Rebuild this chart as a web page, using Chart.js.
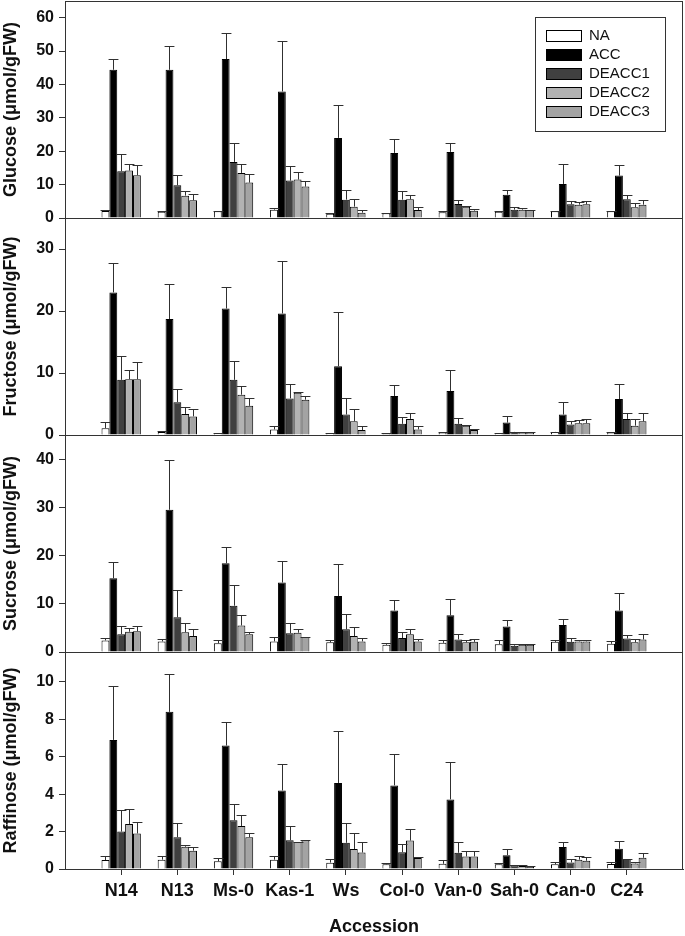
<!DOCTYPE html>
<html>
<head>
<meta charset="utf-8">
<script src="https://cdn.jsdelivr.net/npm/chart.js@4.4.1/dist/chart.umd.min.js"></script>
<style>
  html, body { margin: 0; padding: 0; background: #fff; }
  #wrap { position: relative; width: 685px; height: 936px; overflow: hidden; background: #fff; }
  #wrap canvas { position: absolute; left: 0; }
</style>
</head>
<body>
<div id="wrap">
  <canvas id="cGlc"></canvas>
  <canvas id="cFru"></canvas>
  <canvas id="cSuc"></canvas>
  <canvas id="cRaf"></canvas>
</div>
<script>
// --- data ---
const accessions = ['N14', 'N13', 'Ms-0', 'Kas-1', 'Ws', 'Col-0', 'Van-0', 'Sah-0', 'Can-0', 'C24'];
const treatments = ['NA', 'ACC', 'DEACC1', 'DEACC2', 'DEACC3'];

// Glucose (means, then upper error = SD)
const glcNA     = [2.1, 1.9, 2.0, 2.5, 1.3, 1.4, 1.7, 1.9, 2.0, 2.0];
const glcACC    = [44.4, 44.4, 47.6, 37.9, 24.0, 19.5, 19.8, 7.0, 10.2, 12.7];
const glcDEACC1 = [14.0, 9.8, 16.8, 11.2, 5.5, 5.5, 4.2, 2.5, 4.1, 5.6];
const glcDEACC2 = [14.2, 6.7, 13.5, 11.5, 3.4, 5.6, 3.4, 2.5, 4.0, 3.2];
const glcDEACC3 = [12.8, 5.3, 10.6, 9.4, 1.6, 2.4, 2.2, 2.4, 4.1, 4.0];
const glcNAsd     = [0.2, 0.2, 0.2, 0.6, 0.2, 0.2, 0.3, 0.2, 0.2, 0.2];
const glcACCsd    = [3.2, 7.0, 7.8, 15.0, 9.7, 4.3, 2.7, 1.4, 6.1, 3.1];
const glcDEACC1sd = [5.3, 3.0, 5.7, 4.5, 2.8, 2.6, 1.1, 0.9, 1.0, 1.4];
const glcDEACC2sd = [2.1, 1.5, 2.6, 2.2, 2.4, 1.4, 0.2, 0.6, 0.7, 1.3];
const glcDEACC3sd = [3.0, 2.0, 2.7, 1.6, 0.9, 0.9, 0.4, 0.1, 0.9, 1.3];

// Fructose
const fruNA     = [1.1, 0.5, 0.3, 0.9, 0.3, 0.2, 0.4, 0.3, 0.5, 0.4];
const fruACC    = [23.0, 18.7, 20.4, 19.6, 11.1, 6.3, 7.1, 2.0, 3.3, 5.8];
const fruDEACC1 = [8.9, 5.3, 8.9, 5.9, 3.3, 1.8, 1.8, 0.5, 1.7, 2.6];
const fruDEACC2 = [9.0, 3.4, 6.5, 6.8, 2.2, 2.6, 1.5, 0.4, 1.9, 1.5];
const fruDEACC3 = [9.0, 3.0, 4.7, 5.7, 0.8, 0.9, 0.8, 0.4, 1.9, 2.2];
const fruNAsd     = [1.0, 0.1, 0.1, 0.5, 0.05, 0.05, 0.1, 0.05, 0.05, 0.05];
const fruACCsd    = [4.7, 5.6, 3.4, 8.4, 8.8, 1.7, 3.4, 1.0, 2.0, 2.4];
const fruDEACC1sd = [3.9, 2.2, 3.1, 2.3, 2.7, 1.1, 1.0, 0.05, 0.5, 1.0];
const fruDEACC2sd = [1.5, 1.1, 1.4, 0.2, 2.0, 1.0, 0.1, 0.05, 0.5, 1.1];
const fruDEACC3sd = [2.7, 1.2, 1.3, 0.6, 0.6, 0.6, 0.1, 0.05, 0.7, 1.4];

// Sucrose
const sucNA     = [2.4, 2.2, 1.8, 2.2, 2.0, 1.5, 1.9, 1.6, 2.1, 1.7];
const sucACC    = [15.3, 29.5, 18.4, 14.4, 11.6, 8.6, 7.6, 5.3, 5.6, 8.6];
const sucDEACC1 = [3.7, 7.2, 9.6, 3.9, 4.7, 2.9, 2.6, 1.3, 2.1, 2.8];
const sucDEACC2 = [4.2, 4.1, 5.5, 4.0, 3.3, 3.7, 2.0, 1.5, 2.2, 2.0];
const sucDEACC3 = [4.3, 3.3, 3.7, 3.1, 2.2, 2.2, 2.1, 1.5, 2.2, 2.6];
const sucNAsd     = [0.5, 0.5, 0.6, 1.0, 0.5, 0.4, 0.5, 0.8, 0.4, 0.5];
const sucACCsd    = [3.4, 10.4, 3.4, 4.5, 6.7, 2.1, 3.3, 1.3, 1.2, 3.7];
const sucDEACC1sd = [1.7, 5.6, 4.3, 2.2, 3.1, 1.2, 1.2, 0.3, 0.8, 0.8];
const sucDEACC2sd = [0.8, 1.9, 2.1, 0.8, 1.8, 1.0, 0.4, 0.2, 0.2, 0.7];
const sucDEACC3sd = [1.1, 1.5, 0.4, 0.1, 0.7, 0.5, 0.5, 0.2, 0.3, 1.1];

// Raffinose
const rafNA     = [0.48, 0.5, 0.41, 0.5, 0.34, 0.25, 0.28, 0.25, 0.25, 0.27];
const rafACC    = [6.9, 8.4, 6.6, 4.2, 4.6, 4.47, 3.72, 0.74, 1.17, 1.08];
const rafDEACC1 = [2.0, 1.7, 2.6, 1.54, 1.4, 0.9, 0.87, 0.2, 0.35, 0.53];
const rafDEACC2 = [2.4, 1.19, 2.3, 1.44, 1.07, 1.52, 0.67, 0.16, 0.5, 0.3];
const rafDEACC3 = [1.9, 0.98, 1.7, 1.54, 0.88, 0.59, 0.67, 0.12, 0.44, 0.6];
const rafNAsd     = [0.19, 0.17, 0.17, 0.2, 0.19, 0.07, 0.18, 0.07, 0.1, 0.1];
const rafACCsd    = [2.9, 2.0, 1.27, 1.4, 2.8, 1.7, 2.0, 0.31, 0.28, 0.41];
const rafDEACC1sd = [1.15, 0.75, 0.9, 0.75, 1.06, 0.41, 0.58, 0.03, 0.2, 0.03];
const rafDEACC2sd = [0.8, 0.11, 0.6, 0.03, 0.83, 0.61, 0.27, 0.04, 0.17, 0.07];
const rafDEACC3sd = [0.6, 0.21, 0.23, 0.02, 0.57, 0.03, 0.27, 0.04, 0.18, 0.27];

// --- styling / layout ---
const FONT = '"Liberation Sans", Arial, sans-serif';
const barColors = ['#ffffff', '#000000', '#404040', '#b2b2b2', '#a3a3a3'];
const AXIS = '#333';

Chart.defaults.font.family = FONT;
Chart.defaults.color = '#111';
Chart.defaults.animation = false;

// one empty slot each side so the groups sit like the original x range
const xLabels = [''].concat(accessions, ['']);
const pad = arr => [null].concat(arr, [null]);

const panels = [
    { id: 'cGlc', title: 'Glucose (μmol/gFW)', max: 65, step: 10, top: 1, bottom: 218,
      means: [glcNA, glcACC, glcDEACC1, glcDEACC2, glcDEACC3],
      sds: [glcNAsd, glcACCsd, glcDEACC1sd, glcDEACC2sd, glcDEACC3sd], legend: true },
    { id: 'cFru', title: 'Fructose (μmol/gFW)', max: 35, step: 10, top: 218, bottom: 435,
      means: [fruNA, fruACC, fruDEACC1, fruDEACC2, fruDEACC3],
      sds: [fruNAsd, fruACCsd, fruDEACC1sd, fruDEACC2sd, fruDEACC3sd] },
    { id: 'cSuc', title: 'Sucrose (μmol/gFW)', max: 45, step: 10, top: 435, bottom: 652,
      means: [sucNA, sucACC, sucDEACC1, sucDEACC2, sucDEACC3],
      sds: [sucNAsd, sucACCsd, sucDEACC1sd, sucDEACC2sd, sucDEACC3sd] },
    { id: 'cRaf', title: 'Raffinose (μmol/gFW)', max: 11.6, step: 2, top: 652, bottom: 869,
      means: [rafNA, rafACC, rafDEACC1, rafDEACC2, rafDEACC3],
      sds: [rafNAsd, rafACCsd, rafDEACC1sd, rafDEACC2sd, rafDEACC3sd], xAxis: true }
];

const errorBars = {
    id: 'errorBars',
    afterDatasetsDraw(chart) {
        const ctx = chart.ctx;
        const y = chart.scales.y;
        ctx.save();
        ctx.strokeStyle = '#303030';
        ctx.lineWidth = 1;
        chart.data.datasets.forEach((ds, i) => {
            chart.getDatasetMeta(i).data.forEach((bar, j) => {
                const v = ds.data[j], e = ds.errors[j];
                if (v == null || e == null) return;
                const x = Math.round(bar.x) + 0.5;
                const yTop = Math.round(y.getPixelForValue(v + e)) + 0.5;
                const yBar = y.getPixelForValue(v);
                const half = bar.width / 2 + 1;
                ctx.beginPath();
                ctx.moveTo(x, yBar);
                ctx.lineTo(x, yTop);
                ctx.moveTo(x - half, yTop);
                ctx.lineTo(x + half, yTop);
                ctx.stroke();
            });
        });
        ctx.restore();
    }
};

const frame = {
    id: 'frame',
    afterDraw(chart) {
        const { ctx, chartArea: a } = chart;
        ctx.save();
        ctx.strokeStyle = AXIS;
        ctx.lineWidth = 1;
        ctx.strokeRect(Math.round(a.left) + 0.5, Math.round(a.top) + 0.5,
            Math.round(a.right - a.left) - 1, Math.round(a.bottom - a.top));
        ctx.restore();
    }
};

const boxLegend = {
    id: 'boxLegend',
    afterDraw(chart) {
        const { ctx, chartArea } = chart;
        const x0 = Math.round(chartArea.right) - 148;
        const y0 = Math.round(chartArea.top) + 16;
        ctx.save();
        ctx.lineWidth = 1;
        ctx.strokeStyle = AXIS;
        ctx.strokeRect(x0 + 0.5, y0 + 0.5, 130, 114);
        ctx.font = '15px ' + FONT;
        ctx.textBaseline = 'middle';
        chart.data.datasets.forEach((ds, i) => {
            const cy = y0 + 19 + i * 19;
            ctx.fillStyle = ds.backgroundColor;
            ctx.fillRect(x0 + 11, cy - 5, 35, 11);
            ctx.strokeStyle = '#000';
            ctx.strokeRect(x0 + 11.5, cy - 5.5, 35, 11);
            ctx.fillStyle = '#111';
            ctx.fillText(ds.label, x0 + 54, cy);
        });
        ctx.restore();
    }
};

function makePanel(p) {
    const canvas = document.getElementById(p.id);
    const canvasTop = p.top - 20;
    const height = p.xAxis ? 936 - canvasTop : (p.bottom - p.top) + 40;
    canvas.width = 685;
    canvas.height = height;
    canvas.style.top = canvasTop + 'px';
    canvas.style.width = '685px';
    canvas.style.height = height + 'px';

    const datasets = treatments.map((name, k) => ({
        label: name,
        data: pad(p.means[k]),
        errors: pad(p.sds[k]),
        backgroundColor: barColors[k],
        borderColor: '#000',
        borderWidth: 1,
        categoryPercentage: 0.7,
        barPercentage: 1.0
    }));

    const plugins = [errorBars, frame];
    if (p.legend) plugins.push(boxLegend);

    new Chart(canvas, {
        type: 'bar',
        data: { labels: xLabels, datasets },
        options: {
            responsive: false,
            layout: { padding: { top: 20, bottom: p.xAxis ? 0 : 20, left: 0, right: 2 } },
            plugins: { legend: { display: false }, tooltip: { enabled: false } },
            scales: {
                x: {
                    type: 'category',
                    offset: false,
                    display: !!p.xAxis,
                    grid: { drawOnChartArea: false, offset: false, tickLength: 6, color: AXIS },
                    border: { color: AXIS },
                    ticks: { font: { weight: 'bold', size: 18 }, padding: 5, maxRotation: 0, autoSkip: false, color: '#111' },
                    title: { display: true, text: 'Accession', font: { weight: 'bold', size: 18, lineHeight: 1 },
                             padding: { top: 0, bottom: 0 }, color: '#111' },
                    afterBuildTicks: s => { s.ticks = s.ticks.slice(1, -1); },
                    afterFit: s => { if (p.xAxis) s.height = 67; }
                },
                y: {
                    min: 0,
                    max: p.max,
                    grid: { drawOnChartArea: false, tickLength: 6, color: AXIS },
                    border: { color: AXIS },
                    ticks: { stepSize: p.step, includeBounds: false, autoSkip: false,
                             font: { weight: 'bold', size: 16 }, padding: 5, color: '#111' },
                    title: { display: true, text: p.title, font: { weight: 'bold', size: 18, lineHeight: 1 },
                             padding: { top: 2, bottom: 0 }, color: '#111' },
                    afterBuildTicks: s => {
                        s.ticks = s.ticks.filter(t => Math.abs(t.value / p.step - Math.round(t.value / p.step)) < 1e-6);
                    },
                    afterFit: s => { s.width = 65; }
                }
            }
        },
        plugins
    });
}

panels.forEach(makePanel);
</script>
</body>
</html>
